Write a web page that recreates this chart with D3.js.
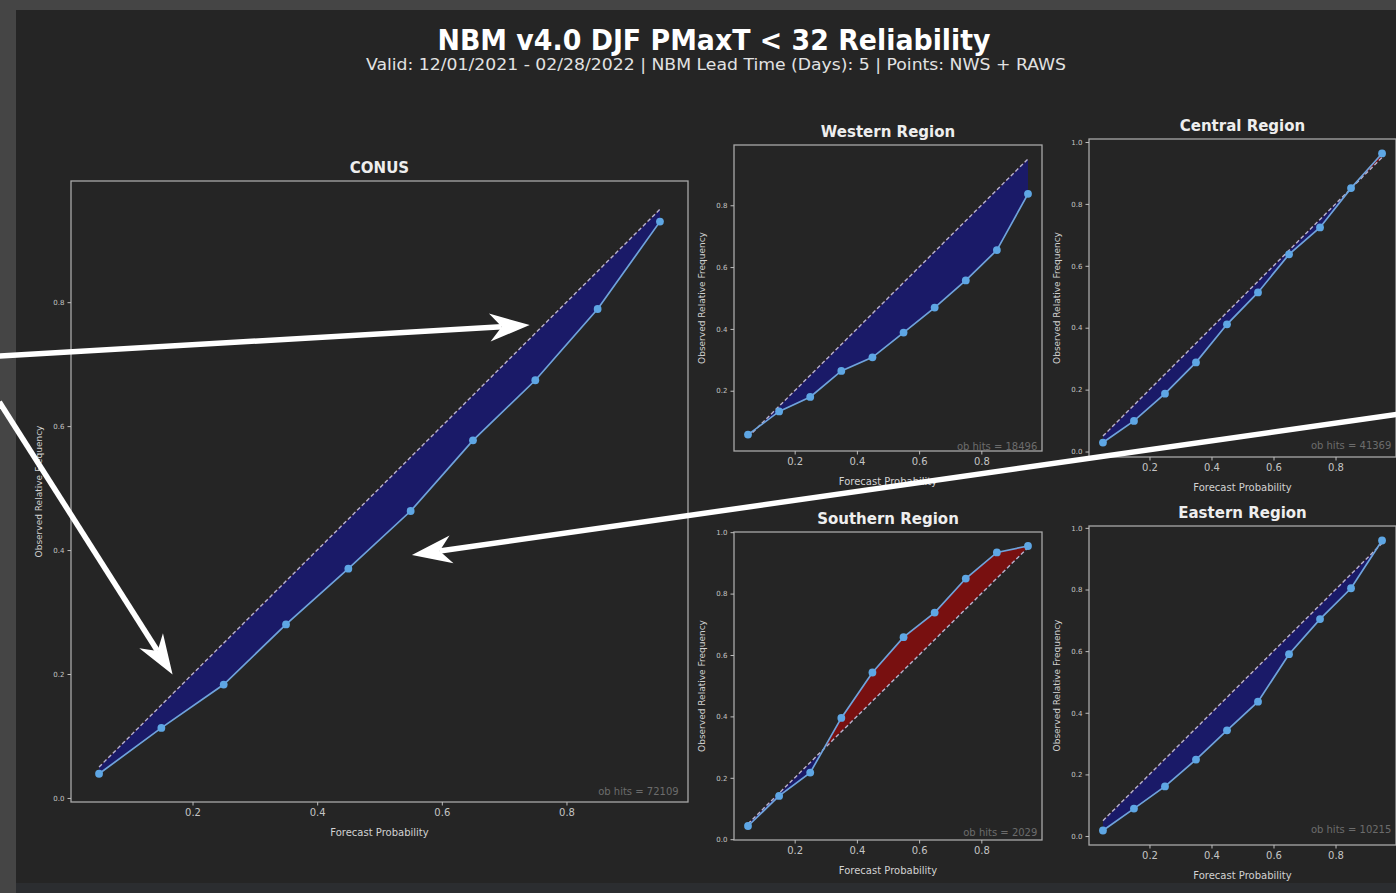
<!DOCTYPE html>
<html>
<head>
<meta charset="utf-8">
<script src="https://cdn.jsdelivr.net/npm/d3@7"></script>
<style>
body { margin: 0; background: #252525; }
svg { display: block; font-family: "DejaVu Sans", sans-serif; }
</style>
</head>
<body>
<svg width="1396" height="893"></svg>
<script>
// forecast probability bins
var probs = [0.05, 0.15, 0.25, 0.35, 0.45, 0.55, 0.65, 0.75, 0.85, 0.95];
var diagonal = [0.05, 0.95];

// observed relative frequency
var conusObs    = [0.039, 0.113, 0.183, 0.280, 0.370, 0.463, 0.577, 0.674, 0.789, 0.930];
var westernObs  = [0.058, 0.133, 0.180, 0.264, 0.308, 0.388, 0.469, 0.557, 0.655, 0.837];
var centralObs  = [0.029, 0.099, 0.187, 0.288, 0.411, 0.514, 0.637, 0.724, 0.851, 0.963];
var southernObs = [0.043, 0.141, 0.217, 0.395, 0.543, 0.658, 0.738, 0.849, 0.934, 0.955];
var easternObs  = [0.018, 0.089, 0.161, 0.248, 0.343, 0.436, 0.590, 0.704, 0.804, 0.959];

var panelNames = ['CONUS', 'Western Region', 'Central Region', 'Southern Region', 'Eastern Region'];
var obHits = [72109, 18496, 41369, 2029, 10215];
var xTicks = [0.2, 0.4, 0.6, 0.8];
var yTicks = [0.0, 0.2, 0.4, 0.6, 0.8, 1.0];

// annotation arrows, in CONUS data coordinates
var arrowTails = [[-0.110, 0.713], [-0.110, 0.639], [2.133, 0.619]];
var arrowTips  = [[0.741, 0.763], [0.168, 0.199], [0.552, 0.392]];

var titleText = 'NBM v4.0 DJF PMaxT < 32 Reliability';
var subtitleText = 'Valid: 12/01/2021 - 02/28/2022 | NBM Lead Time (Days): 5 | Points: NWS + RAWS';

var series = [conusObs, westernObs, centralObs, southernObs, easternObs];

// frame boxes of each axes
var frames = [
    {left: 71, right: 688, top: 181, bottom: 802},
    {left: 734, right: 1042, top: 145, bottom: 451},
    {left: 1089, right: 1396, top: 139, bottom: 457},
    {left: 734, right: 1042, top: 532, bottom: 840},
    {left: 1089, right: 1396, top: 526, bottom: 845}
];

var svg = d3.select('svg');
var defs = svg.append('defs');

// screenshot backdrop
svg.append('rect').attr('width', 1396).attr('height', 893).attr('fill', '#454545');
svg.append('rect').attr('x', 16).attr('y', 10).attr('width', 1380).attr('height', 883).attr('fill', '#252525');
svg.append('rect').attr('x', 16).attr('y', 883).attr('width', 1380).attr('height', 10).attr('fill', '#2b2d30');

svg.append('text')
    .attr('x', 714).attr('y', 50)
    .attr('text-anchor', 'middle')
    .attr('font-size', 28).attr('font-weight', 'bold')
    .attr('fill', '#ffffff')
    .attr('textLength', 553).attr('lengthAdjust', 'spacingAndGlyphs')
    .text(titleText);

svg.append('text')
    .attr('x', 716).attr('y', 70)
    .attr('text-anchor', 'middle')
    .attr('font-size', 16)
    .attr('fill', '#e2e2e2')
    .attr('textLength', 700).attr('lengthAdjust', 'spacingAndGlyphs')
    .text(subtitleText);

var conusX, conusY;

series.forEach(function (obs, i) {
    var f = frames[i];
    var g = svg.append('g');

    var xScale = d3.scaleLinear().domain([0.005, 0.995]).range([f.left, f.right]);
    var ext = d3.extent(obs.concat(diagonal));
    var pad = (ext[1] - ext[0]) * 0.05;
    var yScale = d3.scaleLinear().domain([ext[0] - pad, ext[1] + pad]).range([f.bottom, f.top]);
    if (i === 0) { conusX = xScale; conusY = yScale; }

    // clip regions above and below the 1:1 line
    defs.append('clipPath').attr('id', 'below' + i)
        .append('path')
        .attr('d', 'M' + xScale(-1) + ',' + yScale(-1) + 'L' + xScale(2) + ',' + yScale(2) +
            'L' + xScale(2) + ',' + (f.bottom + 500) + 'L' + xScale(-1) + ',' + (f.bottom + 500) + 'Z');
    defs.append('clipPath').attr('id', 'above' + i)
        .append('path')
        .attr('d', 'M' + xScale(-1) + ',' + yScale(-1) + 'L' + xScale(2) + ',' + yScale(2) +
            'L' + xScale(2) + ',' + (f.top - 500) + 'L' + xScale(-1) + ',' + (f.top - 500) + 'Z');

    var pts = probs.map(function (p, j) { return {p: p, o: obs[j]}; });

    var area = d3.area()
        .x(function (d) { return xScale(d.p); })
        .y0(function (d) { return yScale(d.p); })
        .y1(function (d) { return yScale(d.o); });

    g.append('path').datum(pts)
        .attr('d', area)
        .attr('fill', '#191970').attr('fill-opacity', 0.9)
        .attr('clip-path', 'url(#below' + i + ')');
    g.append('path').datum(pts)
        .attr('d', area)
        .attr('fill', '#8b0c0c').attr('fill-opacity', 0.82)
        .attr('clip-path', 'url(#above' + i + ')');

    // dashed perfect-reliability line
    g.append('line')
        .attr('x1', xScale(diagonal[0])).attr('y1', yScale(diagonal[0]))
        .attr('x2', xScale(diagonal[1])).attr('y2', yScale(diagonal[1]))
        .attr('stroke', '#b9b2cc')
        .attr('stroke-width', 1.4)
        .attr('stroke-dasharray', '4,2.5');

    var line = d3.line()
        .x(function (d) { return xScale(d.p); })
        .y(function (d) { return yScale(d.o); });

    g.append('path').datum(pts)
        .attr('d', line)
        .attr('fill', 'none')
        .attr('stroke', '#6fa3dc')
        .attr('stroke-width', 1.7);

    g.selectAll('circle')
        .data(pts)
        .enter()
        .append('circle')
        .attr('cx', function (d) { return xScale(d.p); })
        .attr('cy', function (d) { return yScale(d.o); })
        .attr('r', 3.9)
        .attr('fill', '#5ea6e4');

    // frame
    g.append('rect')
        .attr('x', f.left).attr('y', f.top)
        .attr('width', f.right - f.left).attr('height', f.bottom - f.top)
        .attr('fill', 'none')
        .attr('stroke', '#a8a8a8')
        .attr('stroke-width', 1.3);

    //axes
    var xAxis = g.append('g')
        .attr('transform', 'translate(0,' + f.bottom + ')')
        .call(d3.axisBottom(xScale).tickValues(xTicks).tickSize(3.5).tickPadding(3).tickFormat(d3.format('.1f')));
    var dom = yScale.domain();
    var yAxis = g.append('g')
        .attr('transform', 'translate(' + f.left + ',0)')
        .call(d3.axisLeft(yScale)
            .tickValues(yTicks.filter(function (t) { return t >= dom[0] && t <= dom[1]; }))
            .tickSize(3.5).tickPadding(3).tickFormat(d3.format('.1f')));
    [xAxis, yAxis].forEach(function (a) {
        a.select('.domain').remove();
        a.selectAll('line').attr('stroke', '#bdbdbd');
        a.selectAll('text').attr('fill', '#c4c4c4').attr('font-family', '"DejaVu Sans", sans-serif');
    });
    xAxis.selectAll('text').attr('font-size', 10);
    yAxis.selectAll('text').attr('font-size', 7);

    var cx = (f.left + f.right) / 2;
    var cy = (f.top + f.bottom) / 2;

    g.append('text')
        .attr('x', cx).attr('y', f.top - 8)
        .attr('text-anchor', 'middle')
        .attr('font-size', 15).attr('font-weight', 'bold')
        .attr('fill', '#eeeeee')
        .text(panelNames[i]);

    g.append('text')
        .attr('x', cx).attr('y', f.bottom + 34)
        .attr('text-anchor', 'middle')
        .attr('font-size', 10)
        .attr('fill', '#d2d2d2')
        .text('Forecast Probability');

    g.append('text')
        .attr('transform', 'translate(' + (f.left - 29) + ',' + cy + ') rotate(-90)')
        .attr('text-anchor', 'middle')
        .attr('font-size', 9)
        .attr('fill', '#d2d2d2')
        .text('Observed Relative Frequency');

    g.append('text')
        .attr('x', xScale(0.98)).attr('y', yScale(0) - 3)
        .attr('text-anchor', 'end')
        .attr('font-size', 10)
        .attr('fill', '#6c6c6c')
        .text('ob hits = ' + obHits[i]);
});

// white annotation arrows on top
arrowTails.forEach(function (t, i) {
    var x0 = conusX(t[0]), y0 = conusY(t[1]);
    var x1 = conusX(arrowTips[i][0]), y1 = conusY(arrowTips[i][1]);
    var dx = x1 - x0, dy = y1 - y0;
    var len = Math.sqrt(dx * dx + dy * dy);
    var ux = dx / len, uy = dy / len;
    var nx = -uy, ny = ux;
    var headLen = 40, headW = 14, notch = 28;

    svg.append('line')
        .attr('x1', x0).attr('y1', y0)
        .attr('x2', x1 - ux * notch).attr('y2', y1 - uy * notch)
        .attr('stroke', '#ffffff')
        .attr('stroke-width', 5.5);

    var bx = x1 - ux * headLen, by = y1 - uy * headLen;
    var head = [
        [x1, y1],
        [bx + nx * headW, by + ny * headW],
        [x1 - ux * notch, y1 - uy * notch],
        [bx - nx * headW, by - ny * headW]
    ];
    svg.append('path')
        .attr('d', 'M' + head.map(function (p) { return p.join(','); }).join('L') + 'Z')
        .attr('fill', '#ffffff');
});
</script>
</body>
</html>
